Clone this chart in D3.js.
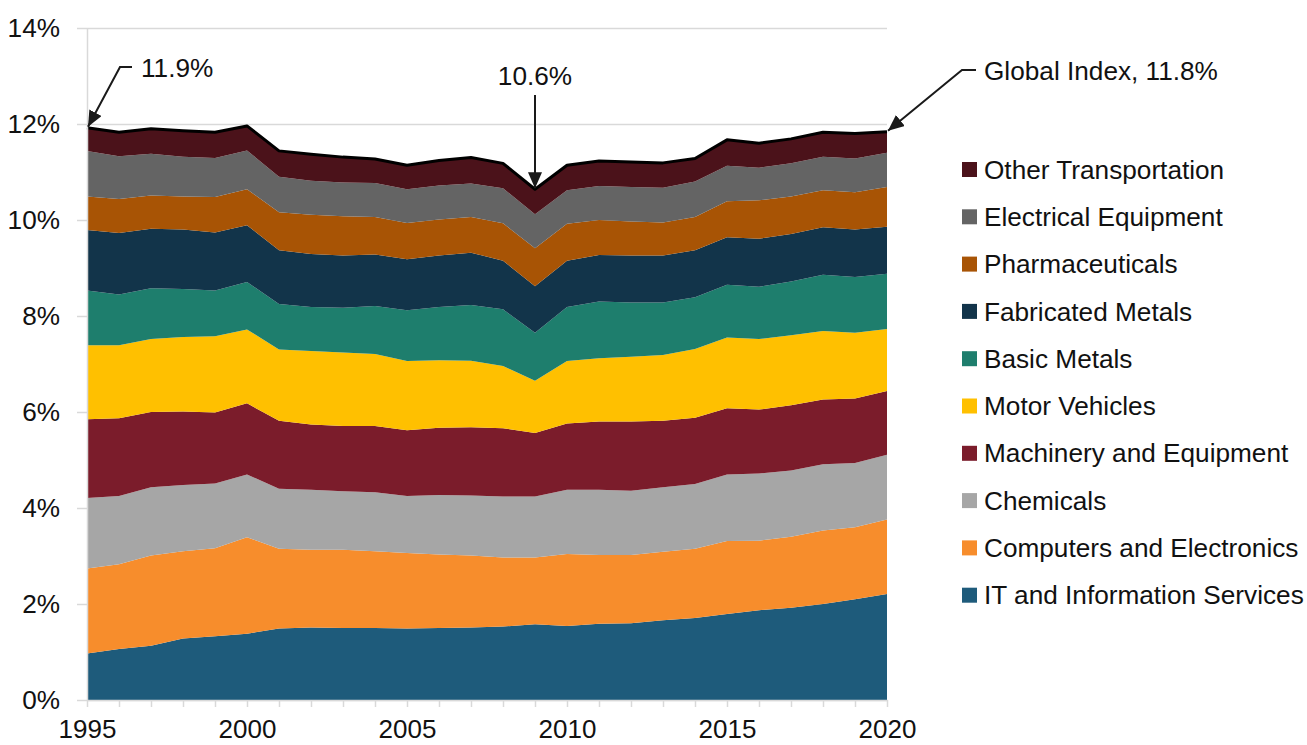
<!DOCTYPE html>
<html>
<head>
<meta charset="utf-8">
<script src="https://cdn.jsdelivr.net/npm/d3@7"></script>
<style>
  html, body { margin: 0; padding: 0; background: #fff; }
  svg { display: block; }
  text { font-family: "Liberation Sans", Arial, sans-serif; fill: #111; }
</style>
</head>
<body>
<svg id="chart" width="1307" height="745"></svg>
<script>
// Years on the horizontal axis
const years = [1995,1996,1997,1998,1999,2000,2001,2002,2003,2004,2005,2006,2007,
               2008,2009,2010,2011,2012,2013,2014,2015,2016,2017,2018,2019,2020];

// Share of each sector (percent), one value per year
const itServices    = [0.97,1.06,1.13,1.28,1.33,1.38,1.49,1.51,1.50,1.50,1.49,1.50,1.51,1.53,1.58,1.54,1.59,1.60,1.66,1.71,1.79,1.87,1.92,2.00,2.10,2.21];
const computers     = [1.77,1.77,1.88,1.82,1.83,2.01,1.66,1.62,1.63,1.60,1.57,1.53,1.50,1.44,1.39,1.50,1.43,1.42,1.43,1.44,1.52,1.45,1.48,1.53,1.50,1.55];
const chemicals     = [1.47,1.42,1.42,1.38,1.35,1.31,1.25,1.25,1.22,1.23,1.19,1.24,1.25,1.27,1.27,1.34,1.36,1.34,1.34,1.35,1.39,1.40,1.38,1.38,1.34,1.35];
const machinery     = [1.64,1.62,1.57,1.53,1.48,1.48,1.42,1.36,1.36,1.38,1.37,1.40,1.42,1.42,1.32,1.38,1.42,1.44,1.39,1.38,1.38,1.33,1.36,1.35,1.34,1.33];
const motorVehicles = [1.54,1.52,1.52,1.55,1.59,1.54,1.48,1.53,1.53,1.50,1.44,1.41,1.39,1.30,1.09,1.30,1.32,1.35,1.37,1.43,1.47,1.47,1.46,1.43,1.37,1.29];
const basicMetals   = [1.14,1.06,1.06,1.00,0.95,0.99,0.95,0.92,0.93,1.00,1.06,1.11,1.16,1.18,1.00,1.13,1.18,1.13,1.09,1.08,1.10,1.09,1.12,1.17,1.16,1.15];
const fabMetals     = [1.26,1.28,1.24,1.24,1.21,1.18,1.12,1.10,1.09,1.07,1.06,1.07,1.09,1.01,0.97,0.96,0.97,0.98,0.98,0.98,0.99,1.00,0.99,0.99,0.99,0.98];
const pharma        = [0.70,0.71,0.69,0.69,0.74,0.75,0.79,0.82,0.82,0.78,0.76,0.75,0.74,0.78,0.79,0.77,0.73,0.71,0.69,0.69,0.75,0.80,0.78,0.77,0.78,0.83];
const electrical    = [0.95,0.89,0.87,0.83,0.81,0.81,0.74,0.71,0.70,0.71,0.70,0.71,0.70,0.73,0.71,0.70,0.71,0.72,0.72,0.74,0.74,0.68,0.69,0.70,0.70,0.71];
const otherTransport= [0.48,0.50,0.52,0.54,0.54,0.51,0.54,0.55,0.53,0.50,0.50,0.52,0.54,0.52,0.52,0.52,0.52,0.52,0.52,0.48,0.54,0.51,0.51,0.51,0.52,0.44];

// Series names, bottom of the stack first
const seriesNames = ["IT and Information Services","Computers and Electronics","Chemicals",
  "Machinery and Equipment","Motor Vehicles","Basic Metals","Fabricated Metals",
  "Pharmaceuticals","Electrical Equipment","Other Transportation"];
const seriesValues = [itServices, computers, chemicals, machinery, motorVehicles,
  basicMetals, fabMetals, pharma, electrical, otherTransport];
const seriesColors = ["#1e5b7b","#f78d2c","#a6a6a6","#7b1c2b","#ffc000",
  "#1e7e6d","#12344a","#a85405","#646464","#4b121a"];

// Axis tick labels
const yTicks = [0,2,4,6,8,10,12,14];
const xLabelYears = [1995,2000,2005,2010,2015,2020];

// Annotated years
const callouts = [
  { year: 1995, prefix: "" },
  { year: 2009, prefix: "" },
  { year: 2020, prefix: "Global Index, " }
];

const svg = d3.select("#chart");
const FONT = 26.2;

const x = d3.scaleLinear().domain([1995, 2020]).range([87, 887]);
const y = d3.scaleLinear().domain([0, 14]).range([700, 28]);

// Build rows for the stack
const rows = years.map((yr, i) => {
  const r = { year: yr };
  seriesNames.forEach((n, k) => r[n] = seriesValues[k][i]);
  return r;
});
const stacked = d3.stack().keys(seriesNames)(rows);
const totals = years.map((yr, i) => d3.sum(seriesValues, s => s[i]));

// Gridlines
svg.append("g")
  .attr("transform", "translate(87,0)")
  .call(d3.axisLeft(y).tickValues(yTicks).tickSize(-800).tickFormat(""))
  .call(g => g.select(".domain").remove())
  .call(g => g.selectAll("line").attr("stroke", "#d9d9d9").attr("stroke-width", 1.5));

// Stacked areas
const area = d3.area()
  .x((d, i) => x(years[i]))
  .y0(d => y(d[0]))
  .y1(d => y(d[1]));

svg.append("g").selectAll("path")
  .data(stacked)
  .join("path")
  .attr("fill", (d, i) => seriesColors[i])
  .attr("d", area);

// Outline of the total
const totalLine = d3.line().x((d, i) => x(years[i])).y(d => y(d));
svg.append("path")
  .datum(totals)
  .attr("fill", "none")
  .attr("stroke", "#000")
  .attr("stroke-width", 3)
  .attr("stroke-linejoin", "round")
  .attr("d", totalLine);

// Y axis
svg.append("g")
  .attr("transform", "translate(87,0)")
  .call(d3.axisLeft(y).tickValues(yTicks).tickSizeInner(10).tickSizeOuter(0).tickPadding(17)
        .tickFormat(d => d + "%"))
  .call(g => g.select(".domain").attr("stroke", "#d9d9d9").attr("stroke-width", 1.5))
  .call(g => g.selectAll("line").attr("stroke", "#d9d9d9").attr("stroke-width", 1.5))
  .call(g => g.selectAll("text").attr("font-size", FONT).attr("font-family", null).attr("fill", "#111"));

// X axis
svg.append("g")
  .attr("transform", "translate(0,700)")
  .call(d3.axisBottom(x).tickValues(years).tickSizeInner(7).tickSizeOuter(0).tickPadding(13)
        .tickFormat(d => xLabelYears.includes(d) ? String(d) : ""))
  .call(g => g.select(".domain").attr("stroke", "#d9d9d9").attr("stroke-width", 1.5))
  .call(g => g.selectAll("line").attr("stroke", "#d9d9d9").attr("stroke-width", 1.5))
  .call(g => g.selectAll("text").attr("font-size", 26).attr("font-family", null).attr("fill", "#111"));

// Arrow marker
svg.append("defs").append("marker")
  .attr("id", "arrow")
  .attr("markerUnits", "userSpaceOnUse")
  .attr("viewBox", "0 0 16 14")
  .attr("refX", 16).attr("refY", 7)
  .attr("markerWidth", 16).attr("markerHeight", 14)
  .attr("orient", "auto")
  .append("path")
  .attr("d", "M0,0 L16,7 L0,14 Z")
  .attr("fill", "#1a1a1a");

const fmt = d3.format(".1f");
const ann = svg.append("g");

callouts.forEach(c => {
  const i = years.indexOf(c.year);
  const px = x(c.year), py = y(totals[i]);
  const label = c.prefix + fmt(totals[i]) + "%";
  if (i === 0) {
    ann.append("path")
      .attr("d", `M132,67 L120,67 L${px + 1},${py - 1}`)
      .attr("fill", "none").attr("stroke", "#1a1a1a").attr("stroke-width", 2)
      .attr("marker-end", "url(#arrow)");
    ann.append("text").attr("x", 141).attr("y", 77).attr("font-size", FONT).text(label);
  } else if (i === years.length - 1) {
    ann.append("path")
      .attr("d", `M976,70 L962,70 L${px + 1},${py - 1}`)
      .attr("fill", "none").attr("stroke", "#1a1a1a").attr("stroke-width", 2)
      .attr("marker-end", "url(#arrow)");
    ann.append("text").attr("x", 984).attr("y", 80).attr("font-size", FONT).text(label);
  } else {
    ann.append("path")
      .attr("d", `M${px},95 L${px},${py - 1}`)
      .attr("fill", "none").attr("stroke", "#1a1a1a").attr("stroke-width", 2)
      .attr("marker-end", "url(#arrow)");
    ann.append("text").attr("x", px).attr("y", 85).attr("text-anchor", "middle")
      .attr("font-size", FONT).text(label);
  }
});

// Legend, top of the stack first
const legend = svg.append("g");
const order = d3.range(seriesNames.length).reverse();
order.forEach((k, row) => {
  const cy = 169.5 + row * 47.3;
  legend.append("rect")
    .attr("x", 962).attr("y", cy - 7.5).attr("width", 15).attr("height", 15)
    .attr("fill", seriesColors[k]);
  legend.append("text")
    .attr("x", 984).attr("y", cy).attr("dy", "0.35em")
    .attr("font-size", FONT).text(seriesNames[k]);
});
</script>
</body>
</html>
